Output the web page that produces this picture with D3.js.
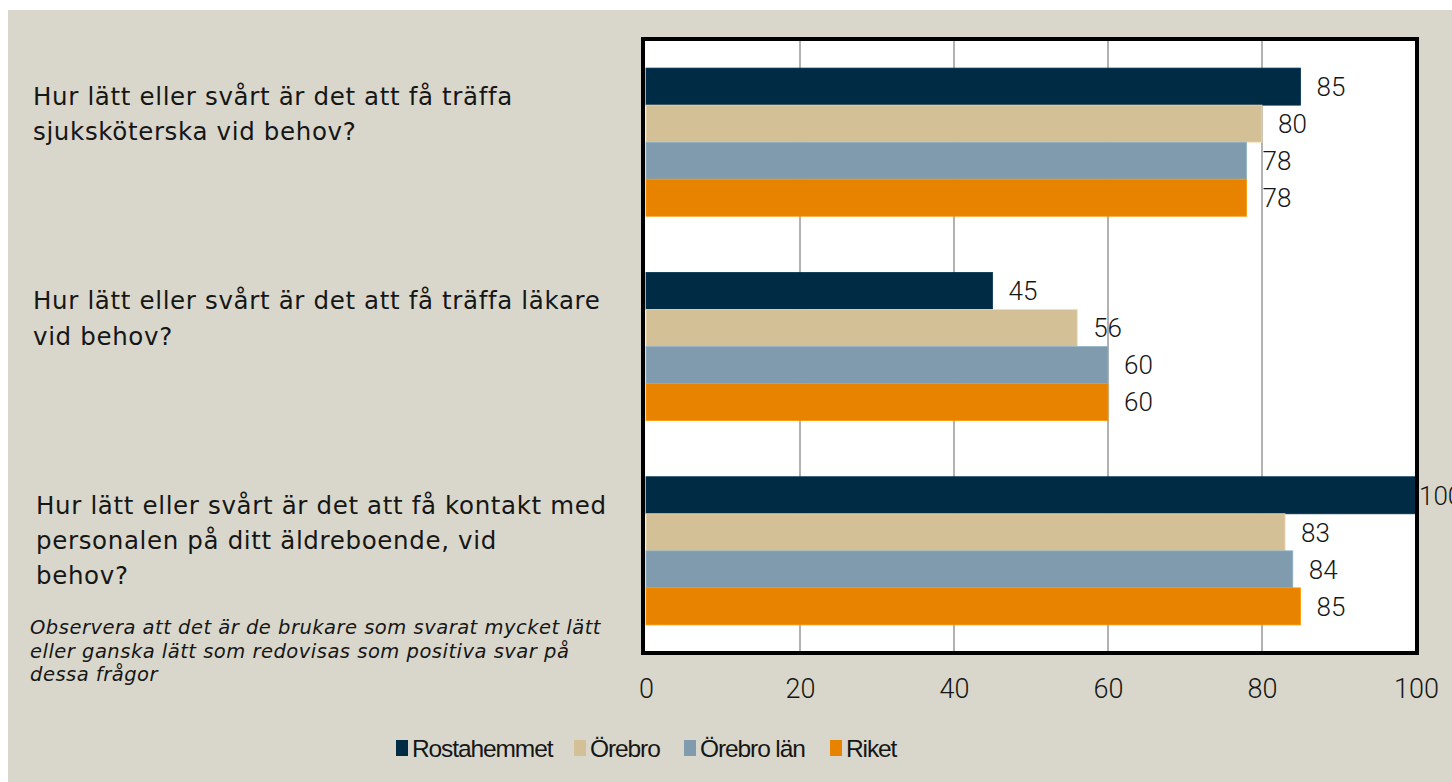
<!DOCTYPE html>
<html><head><meta charset="utf-8">
<script src="https://cdn.jsdelivr.net/npm/d3@7"></script>
<style>body{margin:0;background:#fff}svg{display:block}</style>
</head><body><svg id="c" width="1452" height="782"></svg>
<script>
const categories = [
  "Hur lätt eller svårt är det att få träffa\nsjuksköterska vid behov?",
  "Hur lätt eller svårt är det att få träffa läkare\nvid behov?",
  "Hur lätt eller svårt är det att få kontakt med\npersonalen på ditt äldreboende, vid\nbehov?"
];
const seriesNames = ["Rostahemmet", "Örebro", "Örebro län", "Riket"];
const rostahemmet = [85, 45, 100];
const orebro = [80, 56, 83];
const orebroLan = [78, 60, 84];
const riket = [78, 60, 85];
const tickValues = [0, 20, 40, 60, 80, 100];
const colors = ["#002b45", "#d4c097", "#7f9bad", "#e88300"];
const note = ["Observera att det är de brukare som svarat mycket lätt",
              "eller ganska lätt som redovisas som positiva svar på",
              "dessa frågor"];

const series = [rostahemmet, orebro, orebroLan, riket];
const svg = d3.select("#c");
const font = "'Liberation Sans', Arial, sans-serif";
const wideFont = "'DejaVu Sans', 'Liberation Sans', sans-serif";
const numFont = "Roboto, 'Liberation Sans', sans-serif";
const ink = "#161616";

svg.append("rect").attr("x", 8).attr("y", 10).attr("width", 1444).attr("height", 772).attr("fill", "#d9d7cb");

const L = 645, R = 1417, T = 40, B = 653;
const x = d3.scaleLinear().domain([0, 100]).range([L + 1, R - 1]);
const y0 = d3.scaleBand().domain(d3.range(categories.length)).range([T, B]).paddingInner(0.275).paddingOuter(0.1375);
const y1 = d3.scaleBand().domain(d3.range(series.length)).range([0, y0.bandwidth()]);

svg.append("rect").attr("x", L).attr("y", T).attr("width", R - L).attr("height", B - T).attr("fill", "#fff");

// gridlines
svg.append("g").selectAll("line").data(tickValues.filter(v => v > 0 && v < 100)).join("line")
  .attr("x1", d => x(d)).attr("x2", d => x(d)).attr("y1", T).attr("y2", B)
  .attr("stroke", "#999").attr("stroke-width", 1.5);

// bars
const g = svg.append("g");
categories.forEach((c, i) => {
  series.forEach((s, j) => {
    const yy = y0(i) + y1(j);
    g.append("rect").attr("x", x(0)).attr("y", yy).attr("width", x(s[i]) - x(0)).attr("height", y1.bandwidth())
      .attr("fill", colors[j]).attr("stroke", d3.color(colors[j]).brighter(0.4)).attr("stroke-width", 0.8);
  });
});

// border
svg.append("rect").attr("x", L - 2).attr("y", T - 1).attr("width", R - L + 2).attr("height", B - T + 1)
  .attr("fill", "none").attr("stroke", "#000").attr("stroke-width", 4);

// value labels
categories.forEach((c, i) => {
  series.forEach((s, j) => {
    const yy = y0(i) + y1(j) + y1.bandwidth() / 2;
    svg.append("text").attr("x", x(s[i]) + (s[i] === 100 ? 3 : 16)).attr("y", yy).attr("dy", "0.36em")
      .attr("font-family", numFont).attr("font-weight", 300).attr("font-size", 26).attr("fill", ink).text(s[i]);
  });
});

// x axis labels
const ax = svg.append("g").attr("transform", `translate(0,${B})`)
  .call(d3.axisBottom(x).tickValues(tickValues).tickSize(0).tickPadding(26).tickFormat(d3.format("d")));
ax.select(".domain").remove();
ax.selectAll("text").attr("font-family", numFont).attr("font-weight", 300).attr("font-size", 27).attr("fill", ink);

// category labels
const catX = [33, 33, 36];
categories.forEach((c, i) => {
  const lines = c.split("\n");
  const lh = 35.3;
  const top = y0(i) + y0.bandwidth() / 2 - 46;
  const t = svg.append("text").attr("font-family", wideFont).attr("font-size", 24.5)
    .attr("letter-spacing", 0.65).attr("fill", ink);
  lines.forEach((ln, k) => {
    t.append("tspan").attr("x", catX[i]).attr("y", top + k * lh).attr("dy", "0.36em").text(ln);
  });
});

// note
const nt = svg.append("text").attr("font-family", wideFont).attr("font-size", 19.5).attr("font-style", "italic")
  .attr("letter-spacing", 0.5).attr("fill", ink);
note.forEach((ln, k) => nt.append("tspan").attr("x", 30).attr("y", 634 + k * 23.5).text(ln));

// legend
const legX = [396, 574, 684, 830];
const lg = svg.append("g");
seriesNames.forEach((n, j) => {
  lg.append("rect").attr("x", legX[j]).attr("y", 740).attr("width", 12).attr("height", 16).attr("fill", colors[j]);
  lg.append("text").attr("x", legX[j] + 16).attr("y", 748).attr("dy", "0.36em")
    .attr("font-family", font).attr("font-size", 24.5).attr("letter-spacing", -1.1).attr("fill", ink).text(n);
});
</script></body></html>
